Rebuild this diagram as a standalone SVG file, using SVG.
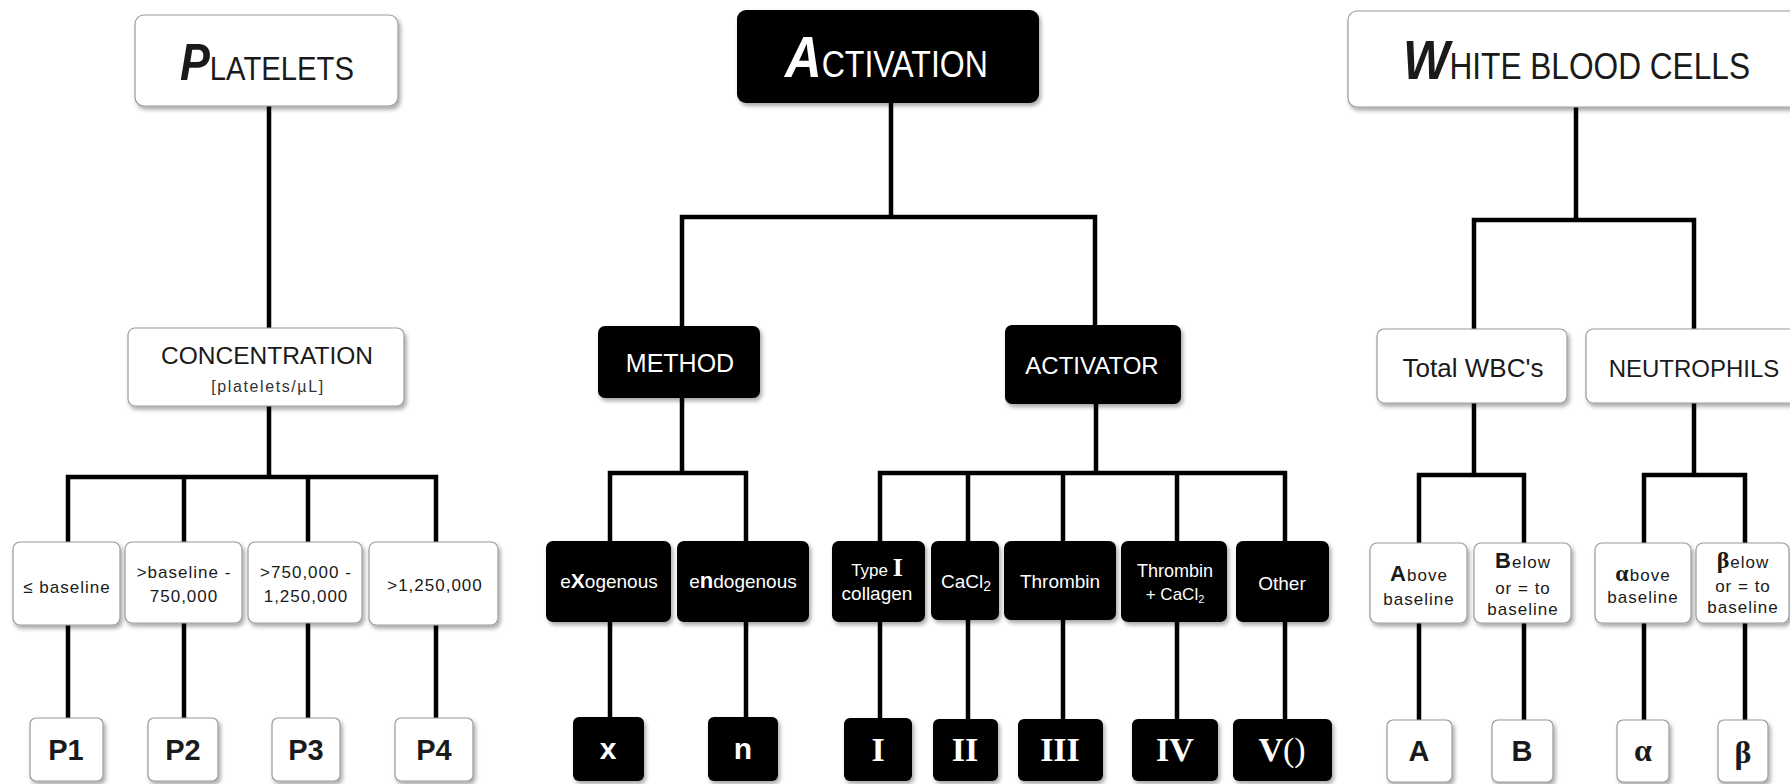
<svg xmlns="http://www.w3.org/2000/svg" width="1790" height="784" viewBox="0 0 1790 784">
<defs>
<filter id="sh" x="-15%" y="-15%" width="140%" height="150%">
<feDropShadow dx="2" dy="3" stdDeviation="2.2" flood-color="#000" flood-opacity="0.35"/>
</filter>
<style>
.w{fill:#fff;stroke:#9a9a9a;stroke-width:1.2;filter:url(#sh)}
.b{fill:#000;filter:url(#sh)}
.ln{fill:none;stroke:#000;stroke-width:4.5;stroke-linejoin:miter}
text{font-family:"Liberation Sans",Arial,sans-serif;fill:#1a1a1a;text-anchor:middle}
.wt{fill:#fff}
.title{text-anchor:start;font-size:34px}
.cap{font-weight:bold;font-style:italic}
.sm{font-size:17px;letter-spacing:1px}
.bl{font-size:19px;fill:#fff}
.lab{font-weight:bold;font-size:29px}
.rom{font-family:"Liberation Serif","Times New Roman",serif;font-weight:bold;font-size:34px;fill:#fff}
.gr{font-family:"Liberation Serif","Times New Roman",serif;font-weight:bold}
</style>
</defs>

<g id="connectors">
<path class="ln" d="M269 106V328M269 406V477M68 542V477H436V542M184 477V542M308 477V542M68 625V718M184 623V718M308 623V718M436 625V718"/>
<path class="ln" d="M891 103V217M682 326V217H1095V325M682 398V473M610 541V473H746V541M1096 404V473M880 541V473H1285V541M968 473V541M1063 473V541M1177 473V541M610 622V717M746 622V717M880 622V718M968 620V719M1063 620V719M1177 622V719M1285 622V719"/>
<path class="ln" d="M1576 107V220M1474 329V220H1694V329M1474 403V475M1419 543V475H1524V543M1694 403V475M1644 543V475H1745V543M1419 623V720M1524 623V720M1644 623V720M1745 623V720"/>
</g>

<g id="platelets"><rect class="w" x="135" y="15" width="263" height="91" rx="9"/>
<text class="title" x="180" y="80" textLength="174" lengthAdjust="spacingAndGlyphs"><tspan class="cap" style="font-size:52px">P</tspan>LATELETS</text></g>
<g id="concentration"><rect class="w" x="128" y="328" width="276" height="78" rx="7"/>
<text x="267" y="364" style="font-size:24.5px">CONCENTRATION</text>
<text x="268" y="392" style="font-size:16px;letter-spacing:1.6px;fill:#333">[platelets/µL]</text></g>
<g id="p-le"><rect class="w" x="13" y="542" width="107" height="83" rx="7"/><text class="sm" x="67" y="593">≤ baseline</text></g>
<g id="p-bl"><rect class="w" x="125" y="542" width="117" height="81" rx="7"/><text class="sm" x="184" y="578">&gt;baseline -</text><text class="sm" x="184" y="602">750,000</text></g>
<g id="p-750"><rect class="w" x="248" y="542" width="114" height="81" rx="7"/><text class="sm" x="306" y="578">&gt;750,000 -</text><text class="sm" x="306" y="602">1,250,000</text></g>
<g id="p-1250"><rect class="w" x="369" y="542" width="129" height="83" rx="7"/><text class="sm" x="435" y="591">&gt;1,250,000</text></g>
<g id="P1"><rect class="w" x="30" y="718" width="73" height="63" rx="6"/><text class="lab" x="66" y="760">P1</text></g>
<g id="P2"><rect class="w" x="148" y="718" width="70" height="63" rx="6"/><text class="lab" x="183" y="760">P2</text></g>
<g id="P3"><rect class="w" x="272" y="718" width="68" height="63" rx="6"/><text class="lab" x="306" y="760">P3</text></g>
<g id="P4"><rect class="w" x="395" y="718" width="78" height="63" rx="6"/><text class="lab" x="434" y="760">P4</text></g>

<g id="activation"><rect class="b" x="737" y="10" width="302" height="93" rx="9"/>
<text class="title wt" x="785" y="77" textLength="203" lengthAdjust="spacingAndGlyphs" style="font-size:36px"><tspan class="cap" style="font-size:57px">A</tspan>CTIVATION</text></g>
<g id="method"><rect class="b" x="598" y="326" width="162" height="72" rx="7"/><text class="wt" x="680" y="372" style="font-size:25px">METHOD</text></g>
<g id="activator"><rect class="b" x="1005" y="325" width="176" height="79" rx="7"/><text class="wt" x="1092" y="374" style="font-size:24px">ACTIVATOR</text></g>
<g id="exogenous"><rect class="b" x="546" y="541" width="125" height="81" rx="7"/><text class="bl" x="609" y="588">e<tspan style="font-weight:bold;font-size:21px">X</tspan>ogenous</text></g>
<g id="endogenous"><rect class="b" x="677" y="541" width="132" height="81" rx="7"/><text class="bl" x="743" y="588">e<tspan style="font-weight:bold;font-size:22px">n</tspan>dogenous</text></g>
<g id="typeI"><rect class="b" x="832" y="541" width="93" height="81" rx="7"/><text class="bl" x="877" y="576" style="font-size:17px">Type <tspan class="gr" style="font-size:26px">I</tspan></text><text class="bl" x="877" y="600">collagen</text></g>
<g id="cacl2"><rect class="b" x="931" y="541" width="68" height="79" rx="7"/><text class="bl" x="966" y="588">CaCl<tspan style="font-size:14px" dy="3">2</tspan></text></g>
<g id="thrombin"><rect class="b" x="1004" y="541" width="112" height="79" rx="7"/><text class="bl" x="1060" y="588">Thrombin</text></g>
<g id="thrombin-cacl2"><rect class="b" x="1121" y="541" width="106" height="81" rx="7"/><text class="bl" x="1175" y="577" style="font-size:18px">Thrombin</text><text class="bl" x="1175" y="600" style="font-size:17px">+ CaCl<tspan style="font-size:11px" dy="3">2</tspan></text></g>
<g id="other"><rect class="b" x="1236" y="541" width="93" height="81" rx="7"/><text class="bl" x="1282" y="590">Other</text></g>
<g id="x"><rect class="b" x="573" y="717" width="71" height="64" rx="6"/><text class="wt" x="608" y="759" style="font-weight:bold;font-size:30px">x</text></g>
<g id="n"><rect class="b" x="708" y="717" width="70" height="64" rx="6"/><text class="wt" x="743" y="759" style="font-weight:bold;font-size:30px">n</text></g>
<g id="rI"><rect class="b" x="844" y="718" width="68" height="63" rx="6"/><text class="rom" x="878" y="761">I</text></g>
<g id="rII"><rect class="b" x="933" y="719" width="65" height="62" rx="6"/><text class="rom" x="965" y="761">II</text></g>
<g id="rIII"><rect class="b" x="1018" y="719" width="85" height="62" rx="6"/><text class="rom" x="1060" y="761">III</text></g>
<g id="rIV"><rect class="b" x="1132" y="719" width="86" height="62" rx="6"/><text class="rom" x="1175" y="761">IV</text></g>
<g id="rV"><rect class="b" x="1233" y="719" width="99" height="62" rx="6"/><text class="rom" x="1282" y="761">V<tspan style="font-weight:normal">()</tspan></text></g>

<g id="wbc"><rect class="w" x="1348" y="11" width="470" height="96" rx="9"/>
<text class="title" x="1403" y="79" textLength="347" lengthAdjust="spacingAndGlyphs" style="font-size:36px"><tspan class="cap" style="font-size:56px">W</tspan>HITE BLOOD CELLS</text></g>
<g id="total-wbc"><rect class="w" x="1377" y="329" width="190" height="74" rx="7"/><text x="1473" y="377" style="font-size:26px">Total WBC's</text></g>
<g id="neutrophils"><rect class="w" x="1586" y="329" width="230" height="74" rx="7"/><text x="1694" y="377" style="font-size:24px">NEUTROPHILS</text></g>
<g id="above"><rect class="w" x="1370" y="543" width="97" height="80" rx="7"/><text class="sm" x="1419" y="581"><tspan style="font-weight:bold;font-size:22px">A</tspan>bove</text><text class="sm" x="1419" y="605">baseline</text></g>
<g id="below"><rect class="w" x="1474" y="543" width="97" height="80" rx="7"/><text class="sm" x="1523" y="568"><tspan style="font-weight:bold;font-size:22px">B</tspan>elow</text><text class="sm" x="1523" y="594">or = to</text><text class="sm" x="1523" y="615">baseline</text></g>
<g id="alpha-above"><rect class="w" x="1595" y="543" width="96" height="80" rx="7"/><text class="sm" x="1643" y="581"><tspan class="gr" style="font-size:24px">α</tspan>bove</text><text class="sm" x="1643" y="603">baseline</text></g>
<g id="beta-below"><rect class="w" x="1696" y="543" width="93" height="80" rx="7"/><text class="sm" x="1743" y="568"><tspan class="gr" style="font-size:24px">β</tspan>elow</text><text class="sm" x="1743" y="592">or = to</text><text class="sm" x="1743" y="613">baseline</text></g>
<g id="A"><rect class="w" x="1387" y="720" width="65" height="62" rx="6"/><text class="lab" x="1419" y="761">A</text></g>
<g id="B"><rect class="w" x="1492" y="720" width="61" height="62" rx="6"/><text class="lab" x="1522" y="761">B</text></g>
<g id="alpha"><rect class="w" x="1617" y="720" width="52" height="62" rx="6"/><text class="gr" x="1643" y="761" style="font-size:32px">α</text></g>
<g id="beta"><rect class="w" x="1718" y="720" width="50" height="62" rx="6"/><text class="gr" x="1743" y="763" style="font-size:32px">β</text></g>
</svg>
